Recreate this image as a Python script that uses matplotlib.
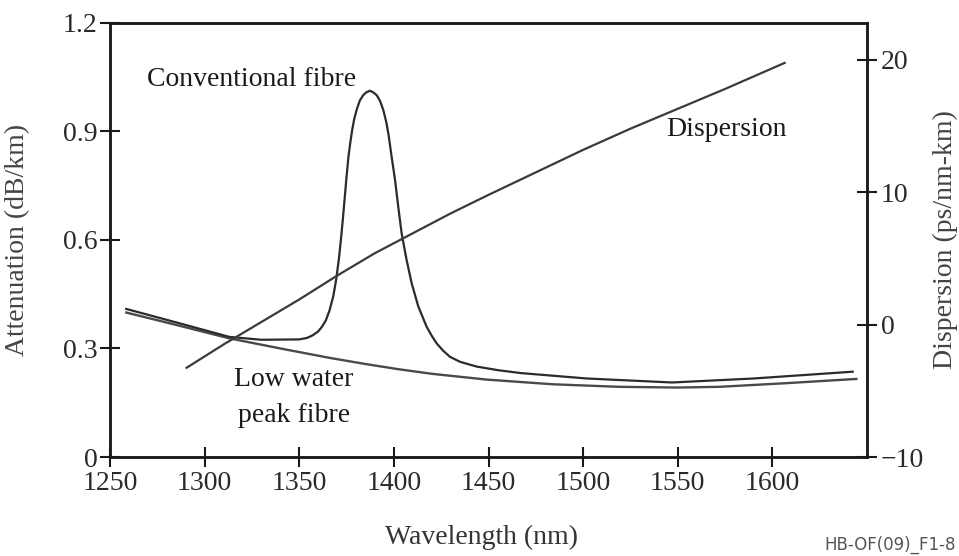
import matplotlib
matplotlib.use("Agg")
import matplotlib.pyplot as plt

plt.rcParams['font.family'] = ['Liberation Serif', 'DejaVu Serif']

# Attenuation of conventional fibre (water peak near 1387 nm)
conv_wl = [1258, 1285, 1313, 1330, 1350, 1354, 1357, 1360, 1362, 1364,
           1366, 1368, 1369.5, 1371, 1372, 1373, 1374, 1375, 1376, 1377,
           1378, 1379, 1380.3, 1382, 1383.8, 1385.5, 1387.3, 1389, 1390.9,
           1392.6, 1394.4, 1396, 1397.2, 1398.8, 1400.6, 1402.3, 1404.1,
           1406.7, 1409.4, 1412.9, 1417.3, 1420, 1422.6, 1426, 1429.6,
           1435, 1443.7, 1455, 1467, 1502, 1547, 1590, 1643]
conv_att = [0.410, 0.372, 0.332, 0.324, 0.325, 0.329, 0.336, 0.347, 0.360,
            0.377, 0.405, 0.445, 0.49, 0.55, 0.60, 0.655, 0.715, 0.775,
            0.83, 0.87, 0.905, 0.933, 0.959, 0.985, 1.0, 1.008, 1.012,
            1.008, 1.0, 0.985, 0.959, 0.925, 0.89, 0.83, 0.766, 0.692,
            0.618, 0.545, 0.48, 0.416, 0.36, 0.335, 0.314, 0.294, 0.277,
            0.263, 0.25, 0.24, 0.232, 0.217, 0.206, 0.217, 0.236]

# Attenuation of low water peak fibre
lwp_wl = [1258, 1285, 1313, 1340, 1366, 1385, 1402, 1420, 1449, 1484,
          1519, 1550, 1572, 1607, 1645]
lwp_att = [0.400, 0.365, 0.328, 0.300, 0.274, 0.257, 0.243, 0.230, 0.214,
           0.201, 0.194, 0.192, 0.194, 0.204, 0.216]

# Chromatic dispersion (ps/nm-km)
disp_wl = [1290, 1310, 1330, 1350, 1370, 1390, 1410, 1430, 1450, 1475,
           1500, 1525, 1550, 1575, 1607]
disp_val = [-3.3, -1.5, 0.2, 1.9, 3.7, 5.4, 6.9, 8.4, 9.8, 11.5, 13.2,
            14.8, 16.3, 17.8, 19.8]

x_ticks = [1250, 1300, 1350, 1400, 1450, 1500, 1550, 1600]
att_ticks = [0, 0.3, 0.6, 0.9, 1.2]
att_ticklabels = ['0', '0.3', '0.6', '0.9', '1.2']
disp_ticks = [-10, 0, 10, 20]

ink = '#1a1a1a'
line_col = '#2b2b2b'

fig = plt.figure(figsize=(9.59, 5.56), dpi=100)
ax = fig.add_axes([0.1147, 0.178, 0.7894, 0.7811])
ax2 = ax.twinx()

ax.plot(lwp_wl, lwp_att, color='#4a4a4a', lw=1.7, solid_capstyle='butt',
        solid_joinstyle='round')
ax.plot(conv_wl, conv_att, color=line_col, lw=1.6, solid_capstyle='butt',
        solid_joinstyle='round')
ax2.plot(disp_wl, disp_val, color='#3a3a3a', lw=1.6, solid_capstyle='butt',
         solid_joinstyle='round')

ax.set_xlim(1250, 1650)
ax.set_ylim(0, 1.2)
ax2.set_ylim(-10, 22.8)

ax.set_xticks(x_ticks)
ax.set_yticks(att_ticks)
ax.set_yticklabels(att_ticklabels)
ax2.set_yticks(disp_ticks)

for a in (ax, ax2):
    for s in a.spines.values():
        s.set_linewidth(1.8)
        s.set_color(ink)
    a.tick_params(direction='inout', length=14, width=1.5, colors=ink,
                  labelsize=20, labelcolor='#2a2a2a')
ax.tick_params(axis='y', pad=2)
ax.tick_params(axis='x', pad=3)
ax2.tick_params(axis='y', pad=3)

ax.set_xlabel('Wavelength (nm)', fontsize=20, color='#333333')
ax.set_ylabel('Attenuation (dB/km)', fontsize=20, color='#444444')
ax2.set_ylabel('Dispersion (ps/nm-km)', fontsize=20, color='#444444',
               rotation=90)
ax.xaxis.set_label_coords(0.491, -0.157)
ax.yaxis.set_label_coords(-0.106, 0.5)
ax2.yaxis.set_label_coords(1.087, 0.5)

ax.text(1269.5, 1.042, 'Conventional fibre', fontsize=20, color=ink,
        ha='left', va='center')
ax.text(1544, 0.904, 'Dispersion', fontsize=20, color=ink,
        ha='left', va='center')
ax.text(1347, 0.213, 'Low water', fontsize=20, color=ink,
        ha='center', va='center')
ax.text(1347, 0.116, 'peak fibre', fontsize=20, color=ink,
        ha='center', va='center')

fig.text(0.997, 0.02, 'HB-OF(09)_F1-8', fontsize=12, color='#555555',
         family='DejaVu Sans', ha='right', va='center')

fig.savefig('out.png', dpi=100)
